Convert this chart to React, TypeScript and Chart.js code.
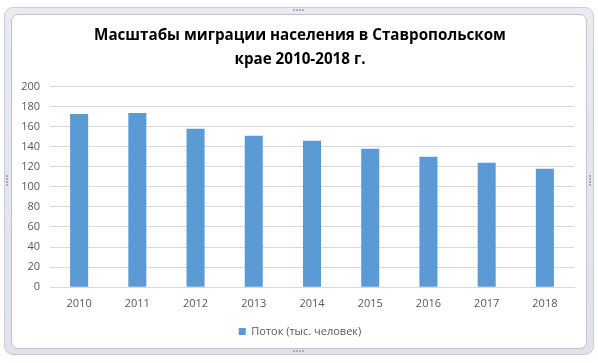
import React, { useEffect, useRef } from "react";
import { Chart, registerables } from "chart.js";

Chart.register(...registerables);

const categories = ["2010", "2011", "2012", "2013", "2014", "2015", "2016", "2017", "2018"];
const flowValues = [172.5, 173.5, 158, 151, 146, 138, 130, 124, 118];
const seriesLabel = "Поток (тыс. человек)";
const titleLines = ["Масштабы миграции населения в Ставропольском", "крае 2010-2018 г."];
const yMin = 0;
const yMax = 200;
const yStep = 20;

const FONT = "'Open Sans', 'DejaVu Sans', sans-serif";

function Dots({ style, vertical }: { style: React.CSSProperties; vertical?: boolean }) {
  const dots = [0, 1, 2, 3].map((i) => (
    <div
      key={i}
      style={{
        position: "absolute",
        width: 2,
        height: 2,
        background: "#a9adb8",
        left: vertical ? 0 : i * 3,
        top: vertical ? i * 3 : 0,
      }}
    />
  ));
  return <div style={{ position: "absolute", ...style }}>{dots}</div>;
}

export default function App() {
  const canvasRef = useRef<HTMLCanvasElement | null>(null);

  useEffect(() => {
    const ctx = canvasRef.current;
    if (!ctx) return;
    const chart = new Chart(ctx, {
      type: "bar",
      data: {
        labels: categories,
        datasets: [
          {
            label: seriesLabel,
            data: flowValues,
            backgroundColor: "#5b9bd5",
            borderWidth: 0,
            barPercentage: 0.31,
            categoryPercentage: 1,
          },
        ],
      },
      options: {
        responsive: false,
        animation: false,
        devicePixelRatio: 1,
        layout: { padding: { left: 12, right: 10, top: 0, bottom: 16.1 } },
        font: { family: FONT },
        plugins: {
          title: {
            display: true,
            text: titleLines,
            color: "#000000",
            font: { family: FONT, size: 15.2, weight: "bold", lineHeight: 1.611 },
            padding: { top: 23.25, bottom: 14.25 },
          },
          legend: {
            display: true,
            position: "bottom",
            labels: {
              boxWidth: 7,
              boxHeight: 7,
              padding: 5.5,
              color: "#595959",
              font: { family: FONT, size: 11 },
            },
          },
          tooltip: { enabled: false },
        },
        scales: {
          x: {
            grid: { display: false, drawTicks: false },
            border: { display: true, color: "#d9d9d9", width: 1 },
            ticks: { color: "#595959", font: { family: FONT, size: 11 }, padding: 10 },
          },
          y: {
            min: yMin,
            max: yMax,
            ticks: {
              stepSize: yStep,
              color: "#595959",
              font: { family: FONT, size: 11 },
              padding: 10,
            },
            grid: { color: "#d9d9d9", drawTicks: false, lineWidth: 1 },
            border: { display: false },
            afterFit: (scale: any) => {
              scale.width = 38;
            },
          },
          ySpacer: {
            type: "linear",
            position: "right",
            display: true,
            grid: { display: false, drawTicks: false },
            border: { display: false },
            ticks: { display: false },
            afterFit: (scale: any) => {
              scale.width = 14;
            },
          },
        },
      },
    });
    return () => chart.destroy();
  }, []);

  return (
    <div style={{ position: "absolute", left: 0, top: 0, width: 598, height: 363, background: "#ffffff", overflow: "hidden" }}>
      <div
        style={{
          position: "absolute",
          left: 4,
          top: 7,
          width: 588,
          height: 346,
          borderRadius: 9,
          border: "1px solid #c9ccd6",
          background: "linear-gradient(#e9ebf1, #dfe2ea)",
        }}
      />
      <div
        style={{
          position: "absolute",
          left: 11,
          top: 14,
          width: 574,
          height: 333,
          borderRadius: 7,
          border: "1px solid #bfc3ce",
          background: "#ffffff",
        }}
      />
      <Dots style={{ left: 293, top: 9 }} />
      <Dots style={{ left: 293, top: 350 }} />
      <Dots style={{ left: 6, top: 175 }} vertical />
      <Dots style={{ left: 589, top: 175 }} vertical />
      <canvas
        ref={canvasRef}
        width={598}
        height={363}
        style={{ position: "absolute", left: 0, top: 0, width: 598, height: 363 }}
      />
    </div>
  );
}
